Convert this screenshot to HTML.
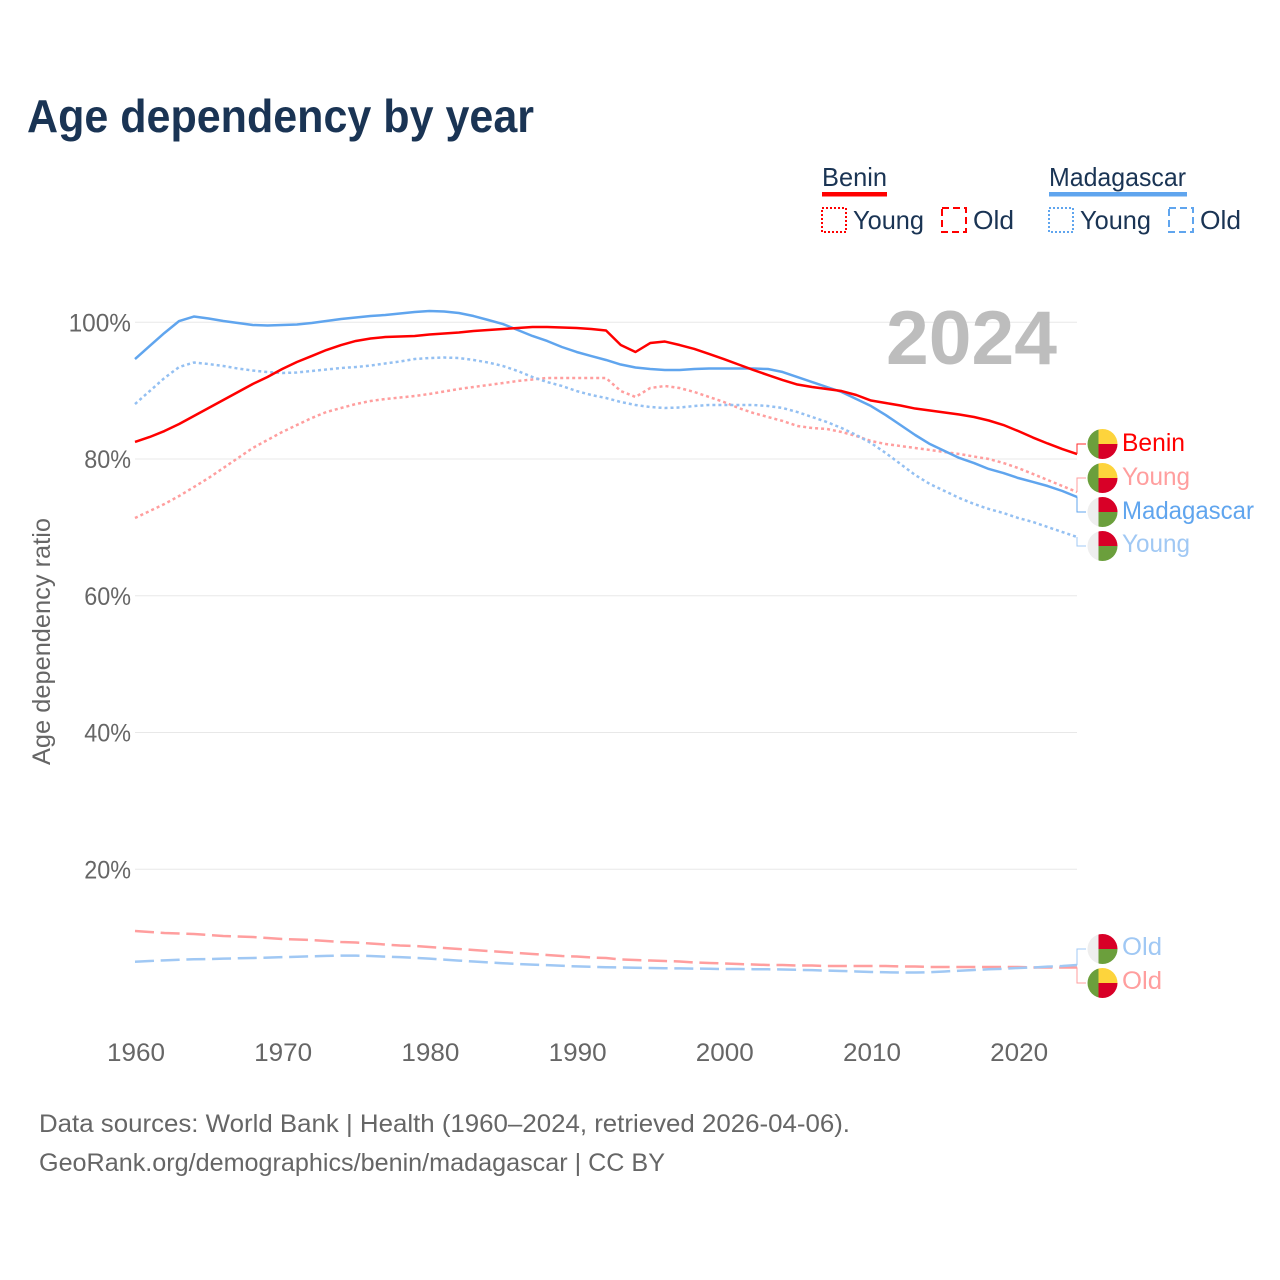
<!DOCTYPE html>
<html lang="en">
<head>
<meta charset="utf-8">
<title>Age dependency by year</title>
<style>
html,body{margin:0;padding:0;background:#fff;}
svg{display:block;font-family:"Liberation Sans",sans-serif;}
</style>
</head>
<body>
<svg id="chart" xmlns="http://www.w3.org/2000/svg" width="1280" height="1280" viewBox="0 0 1280 1280">
  <defs>
    <clipPath id="flag-clip"><circle cx="0" cy="0" r="15"/></clipPath>
    <g id="benin-flag">
      <g clip-path="url(#flag-clip)">
        <rect x="-15" y="-15" width="11" height="30" fill="#6b9f3c"/>
        <rect x="-4" y="-15" width="19" height="15" fill="#fdd43c"/>
        <rect x="-4" y="0" width="19" height="15" fill="#d80027"/>
      </g>
    </g>
    <g id="madagascar-flag">
      <g clip-path="url(#flag-clip)">
        <rect x="-15" y="-15" width="11" height="30" fill="#eeeeee"/>
        <rect x="-4" y="-15" width="19" height="15" fill="#d80027"/>
        <rect x="-4" y="0" width="19" height="15" fill="#6b9f3c"/>
      </g>
    </g>
  </defs>

  <rect width="1280" height="1280" fill="#fff"/>
  <text x="27" y="132" font-size="46" font-weight="700" fill="#1a3454" textLength="507" lengthAdjust="spacingAndGlyphs">Age dependency by year</text>

  <g fill="#1a3454" font-size="26">
    <text x="822" y="186" textLength="65" lengthAdjust="spacingAndGlyphs">Benin</text>
    <rect x="822" y="192" width="65" height="4.5" fill="#ff0000"/>
    <rect x="822" y="208" width="24" height="24" fill="none" stroke="#ff0000" stroke-width="2" stroke-dasharray="2 2"/>
    <text x="853" y="229" textLength="71" lengthAdjust="spacingAndGlyphs">Young</text>
    <rect x="942" y="208" width="24" height="24" fill="none" stroke="#ff0000" stroke-width="2" stroke-dasharray="7 4"/>
    <text x="973" y="229" textLength="41" lengthAdjust="spacingAndGlyphs">Old</text>

    <text x="1049" y="186" textLength="137" lengthAdjust="spacingAndGlyphs">Madagascar</text>
    <rect x="1049" y="192" width="138" height="4.5" fill="#60a5ee"/>
    <rect x="1049" y="208" width="24" height="24" fill="none" stroke="#60a5ee" stroke-width="2" stroke-dasharray="2 2"/>
    <text x="1080" y="229" textLength="71" lengthAdjust="spacingAndGlyphs">Young</text>
    <rect x="1169" y="208" width="24" height="24" fill="none" stroke="#60a5ee" stroke-width="2" stroke-dasharray="7 4"/>
    <text x="1200" y="229" textLength="41" lengthAdjust="spacingAndGlyphs">Old</text>
  </g>

  <g id="grid"></g>
  <g id="y-axis"></g>
  <g id="x-axis"></g>

  <text transform="translate(50,765) rotate(-90)" x="0" y="0" font-size="25" fill="#666666" textLength="247" lengthAdjust="spacingAndGlyphs">Age dependency ratio</text>
  <text x="886" y="364" font-size="76" font-weight="700" fill="#bdbdbd" textLength="171" lengthAdjust="spacingAndGlyphs">2024</text>

  <g id="series"></g>
  <g id="connectors"></g>

  <g font-size="25">
    <use href="#benin-flag" x="1102.5" y="444"/>
    <text x="1122" y="451" fill="#ff0000" textLength="63" lengthAdjust="spacingAndGlyphs">Benin</text>
    <use href="#benin-flag" x="1102.5" y="478"/>
    <text x="1122" y="485" fill="#ff9e9e" textLength="68" lengthAdjust="spacingAndGlyphs">Young</text>
    <use href="#madagascar-flag" x="1102.5" y="512"/>
    <text x="1122" y="519" fill="#60a5ee" textLength="132" lengthAdjust="spacingAndGlyphs">Madagascar</text>
    <use href="#madagascar-flag" x="1102.5" y="546"/>
    <text x="1122" y="552" fill="#a0c8f4" textLength="68" lengthAdjust="spacingAndGlyphs">Young</text>
    <use href="#madagascar-flag" x="1102.5" y="949"/>
    <text x="1122" y="955" fill="#a0c8f4" textLength="40" lengthAdjust="spacingAndGlyphs">Old</text>
    <use href="#benin-flag" x="1102.5" y="983"/>
    <text x="1122" y="989" fill="#ff9e9e" textLength="40" lengthAdjust="spacingAndGlyphs">Old</text>
  </g>

  <g font-size="25" fill="#666666">
    <text x="39" y="1132" textLength="811" lengthAdjust="spacingAndGlyphs">Data sources: World Bank | Health (1960–2024, retrieved 2026-04-06).</text>
    <text x="39" y="1171" textLength="626" lengthAdjust="spacingAndGlyphs">GeoRank.org/demographics/benin/madagascar | CC BY</text>
  </g>
</svg>

<script>
const years = [
  1960,1961,1962,1963,1964,1965,1966,1967,1968,1969,
  1970,1971,1972,1973,1974,1975,1976,1977,1978,1979,
  1980,1981,1982,1983,1984,1985,1986,1987,1988,1989,
  1990,1991,1992,1993,1994,1995,1996,1997,1998,1999,
  2000,2001,2002,2003,2004,2005,2006,2007,2008,2009,
  2010,2011,2012,2013,2014,2015,2016,2017,2018,2019,
  2020,2021,2022,2023,2024];
const xTickYears = [1960,1970,1980,1990,2000,2010,2020];
const yTickValues = [20,40,60,80,100];

const madagascarTotal = [
  94.62,96.53,98.43,100.18,100.84,100.55,100.18,99.89,99.60,99.52,
  99.60,99.67,99.89,100.18,100.47,100.69,100.91,101.06,101.28,101.50,
  101.64,101.57,101.35,100.91,100.33,99.74,98.87,97.99,97.26,96.38,
  95.65,95.06,94.48,93.82,93.38,93.16,93.02,93.02,93.16,93.23,
  93.23,93.23,93.23,93.16,92.72,91.99,91.26,90.53,89.80,88.77,
  87.75,86.43,84.97,83.51,82.19,81.17,80.15,79.41,78.54,77.95,
  77.22,76.64,76.05,75.32,74.44];
const madagascarYoung = [
  88.04,89.94,91.85,93.45,94.11,93.89,93.60,93.23,92.94,92.72,
  92.58,92.65,92.87,93.09,93.31,93.45,93.67,93.97,94.26,94.62,
  94.77,94.84,94.77,94.48,94.11,93.60,92.87,91.99,91.26,90.68,
  89.94,89.36,88.92,88.34,87.90,87.60,87.46,87.53,87.75,87.90,
  87.90,87.90,87.90,87.75,87.46,86.87,86.14,85.41,84.53,83.51,
  82.34,80.88,79.27,77.66,76.34,75.32,74.30,73.42,72.69,72.10,
  71.37,70.79,70.05,69.32,68.59];
const madagascarOld = [
  6.48,6.58,6.68,6.76,6.83,6.87,6.92,6.98,7.02,7.08,
  7.14,7.20,7.27,7.33,7.37,7.36,7.31,7.22,7.14,7.05,
  6.93,6.79,6.64,6.51,6.38,6.26,6.14,6.05,5.97,5.88,
  5.79,5.73,5.67,5.63,5.59,5.56,5.53,5.50,5.47,5.44,
  5.41,5.41,5.38,5.37,5.34,5.29,5.24,5.18,5.12,5.05,
  4.97,4.93,4.90,4.90,4.94,5.05,5.16,5.27,5.37,5.44,
  5.56,5.63,5.75,5.85,6.00];
const beninTotal = [
  82.49,83.22,84.09,85.12,86.29,87.46,88.63,89.80,90.97,91.99,
  93.16,94.19,95.06,95.94,96.67,97.26,97.62,97.84,97.91,97.99,
  98.21,98.35,98.50,98.72,98.87,99.01,99.16,99.30,99.30,99.23,
  99.16,99.01,98.79,96.67,95.65,96.96,97.18,96.67,96.09,95.36,
  94.62,93.82,93.02,92.28,91.55,90.89,90.53,90.24,89.94,89.36,
  88.55,88.19,87.82,87.38,87.09,86.80,86.51,86.14,85.63,84.97,
  84.09,83.14,82.27,81.46,80.73];
const beninYoung = [
  71.37,72.39,73.42,74.59,75.90,77.22,78.68,80.15,81.61,82.78,
  83.95,84.97,85.99,86.87,87.46,88.04,88.48,88.77,88.99,89.21,
  89.51,89.87,90.24,90.53,90.82,91.11,91.41,91.63,91.85,91.85,
  91.85,91.85,91.85,89.94,89.07,90.38,90.68,90.38,89.80,89.07,
  88.34,87.46,86.73,86.14,85.56,84.83,84.53,84.39,83.95,83.36,
  82.63,82.19,81.90,81.61,81.32,81.02,80.73,80.36,80.00,79.41,
  78.68,77.81,76.93,76.05,75.17];
const beninOld = [
  10.97,10.82,10.68,10.60,10.53,10.38,10.24,10.16,10.09,9.95,
  9.80,9.73,9.65,9.51,9.36,9.29,9.14,8.99,8.85,8.78,
  8.63,8.48,8.34,8.19,8.04,7.90,7.75,7.61,7.46,7.31,
  7.24,7.09,7.02,6.80,6.73,6.65,6.58,6.51,6.36,6.29,
  6.22,6.14,6.07,6.00,6.00,5.92,5.92,5.85,5.85,5.85,
  5.85,5.85,5.78,5.78,5.70,5.70,5.70,5.70,5.70,5.70,
  5.70,5.63,5.63,5.63,5.63];

const SVG_NS = 'http://www.w3.org/2000/svg';
function xScale(year){ return 135 + (year - 1960) * 14.72; }
function yScale(value){ return 1006 - value * 6.8375; }
function make(tag, parent){
  const el = document.createElementNS(SVG_NS, tag);
  parent.appendChild(el);
  return el;
}
const gridGroup = document.getElementById('grid');
const yAxisGroup = document.getElementById('y-axis');
const xAxisGroup = document.getElementById('x-axis');
const seriesGroup = document.getElementById('series');
const connectorGroup = document.getElementById('connectors');

yTickValues.forEach(function(v){
  const line = make('line', gridGroup);
  
  
  line.setAttribute('x1', 135);
  line.setAttribute('x2', 1077);
  line.setAttribute('y1', yScale(v));
  line.setAttribute('y2', yScale(v));
  line.setAttribute('stroke', '#e8e8e8');
  line.setAttribute('stroke-width', 1);
  const label = make('text', yAxisGroup);
  
  
  const s = v + '%';
  label.textContent = s;
  const w = s.length * 15.6;
  label.setAttribute('x', 131 - w);
  label.setAttribute('y', yScale(v) + 9);
  label.setAttribute('font-size', 25);
  label.setAttribute('fill', '#666666');
  label.setAttribute('textLength', w);
  label.setAttribute('lengthAdjust', 'spacingAndGlyphs');
});

xTickYears.forEach(function(y){
  const label = make('text', xAxisGroup);
  
  
  label.textContent = String(y);
  label.setAttribute('x', xScale(y) + 1 - 29);
  label.setAttribute('y', 1061);
  label.setAttribute('font-size', 25);
  label.setAttribute('fill', '#666666');
  label.setAttribute('textLength', 58);
  label.setAttribute('lengthAdjust', 'spacingAndGlyphs');
});

function drawLine(values, color, dash, name){
  const path = make('path', seriesGroup);
  
  
  let d = '';
  values.forEach(function(v, i){
    d += (i ? 'L' : 'M') + xScale(years[i]).toFixed(2) + ' ' + yScale(v).toFixed(2);
  });
  path.setAttribute('d', d);
  path.setAttribute('fill', 'none');
  path.setAttribute('stroke', color);
  path.setAttribute('stroke-width', 2.5);
  path.setAttribute('stroke-linejoin', 'round');
  if (dash) path.setAttribute('stroke-dasharray', dash);
}
drawLine(beninOld, '#ff9e9e', '19 6.7', 'line-benin-old');
drawLine(madagascarOld, '#a0c8f4', '19 6.7', 'line-madagascar-old');
drawLine(beninYoung, '#ff9e9e', '3 3', 'line-benin-young');
drawLine(madagascarYoung, '#94c0f2', '3 3', 'line-madagascar-young');
drawLine(madagascarTotal, '#60a5ee', '', 'line-madagascar-total');
drawLine(beninTotal, '#ff0000', '', 'line-benin-total');

function drawConnector(values, labelY, color, name){
  const path = make('path', connectorGroup);
  
  
  const last = values[values.length - 1];
  path.setAttribute('d', 'M1077 ' + yScale(last).toFixed(2) + 'V' + labelY + 'H1086');
  path.setAttribute('fill', 'none');
  path.setAttribute('stroke', color);
  path.setAttribute('stroke-width', 1);
}
drawConnector(beninTotal, 444, '#ff2a2a', 'connector-benin');
drawConnector(beninYoung, 478, '#ff9e9e', 'connector-benin-young');
drawConnector(madagascarTotal, 512, '#60a5ee', 'connector-madagascar');
drawConnector(madagascarYoung, 546, '#a0c8f4', 'connector-madagascar-young');
drawConnector(madagascarOld, 949, '#a0c8f4', 'connector-madagascar-old');
drawConnector(beninOld, 983, '#ff9e9e', 'connector-benin-old');
</script>
</body>
</html>
